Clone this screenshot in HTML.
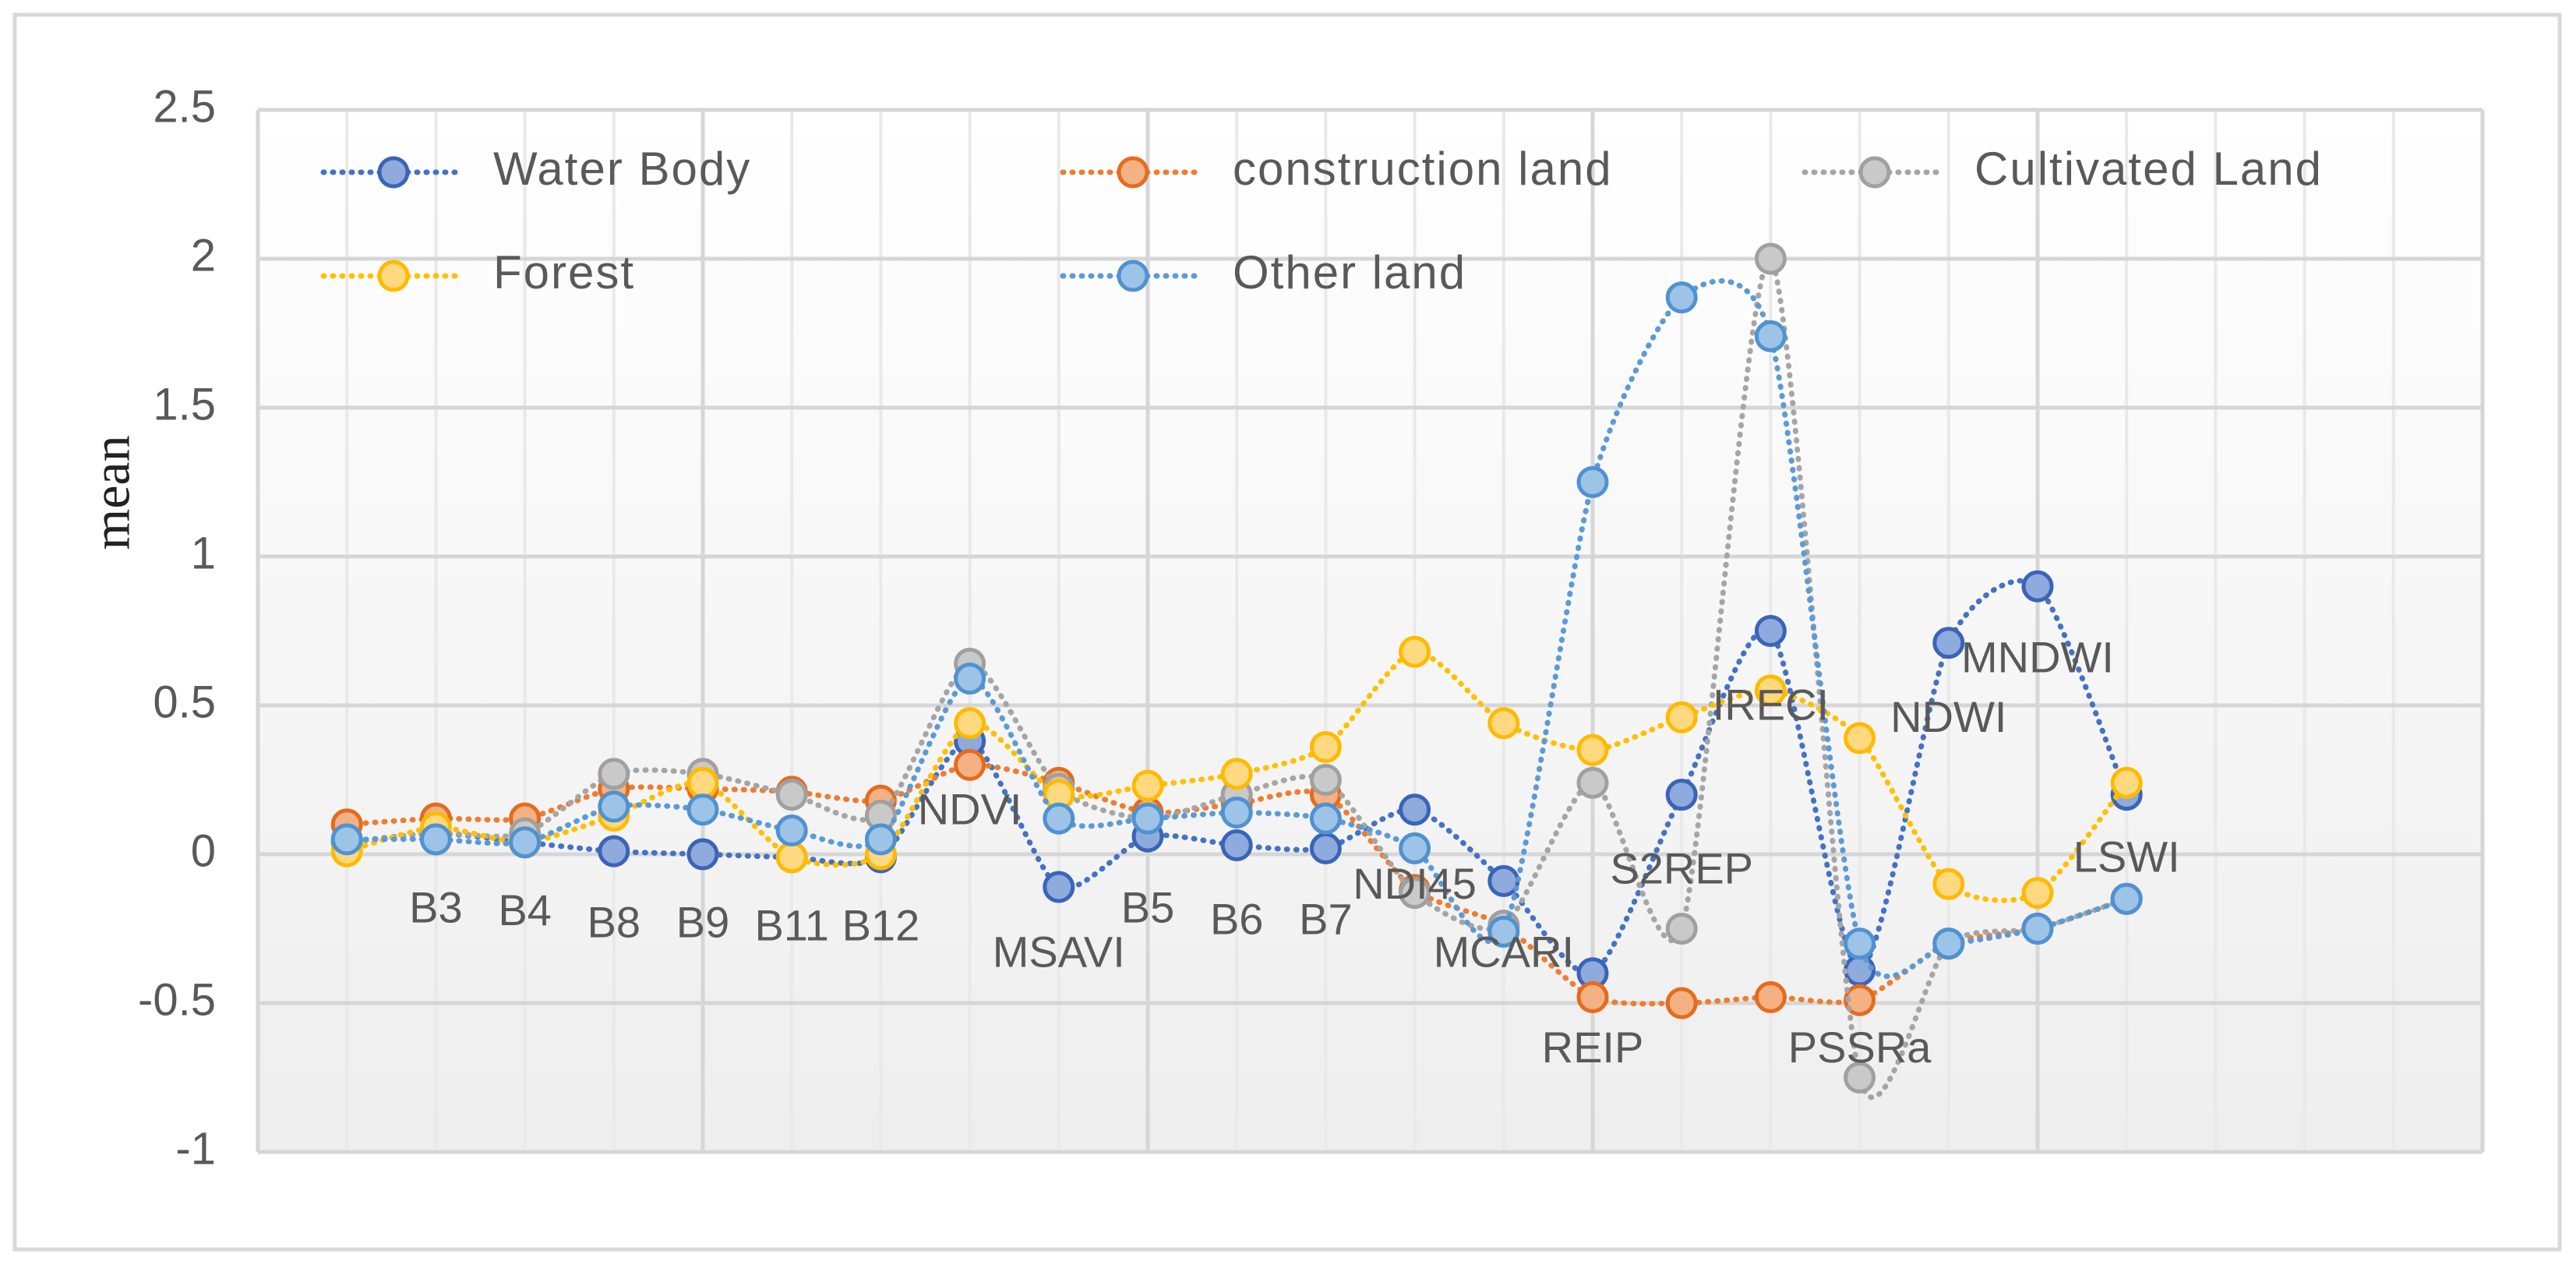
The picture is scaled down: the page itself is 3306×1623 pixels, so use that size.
<!DOCTYPE html>
<html><head><meta charset="utf-8"><style>
html,body{margin:0;padding:0;background:#fff;}
svg{display:block;}
text{font-family:"Liberation Sans",sans-serif;fill:#595959;}
</style></head><body>
<svg id="chart" width="3306" height="1623" viewBox="0 0 3306 1623" xmlns="http://www.w3.org/2000/svg">
<defs>
<linearGradient id="bg" x1="0" y1="0" x2="0" y2="1">
<stop offset="0" stop-color="#ffffff"/><stop offset="1" stop-color="#eeeeee"/>
</linearGradient>
</defs>
<rect x="19" y="19" width="3266" height="1584" fill="#fff" stroke="#d9d9d9" stroke-width="5"/>
<rect x="331" y="141" width="2855" height="1337" fill="url(#bg)"/>
<g id="grid"></g>
<g id="lines"></g>
<g id="labels"></g>
<g id="yticks"></g>
<text x="150" y="632" font-size="68" text-anchor="middle" dominant-baseline="middle" transform="rotate(-90 150 632)" style="font-family:'Liberation Serif',serif;fill:#222">mean</text>
<g id="legend"></g>
</svg>
<script>
const categories = ["B2","B3","B4","B8","B9","B11","B12","NDVI","MSAVI","B5","B6","B7","NDI45","MCARI","REIP","S2REP","IRECI","PSSRa","NDWI","MNDWI","LSWI"];
const showLabel = [false,true,true,true,true,true,true,true,true,true,true,true,true,true,true,true,true,true,true,true,true];
const labelY = [0,-0.19,-0.2,-0.24,-0.24,-0.25,-0.25,0.14,-0.34,-0.19,-0.23,-0.23,-0.11,-0.34,-0.66,-0.06,0.49,-0.66,0.45,0.65,-0.02];
const waterBody = [0.04,0.07,0.04,0.01,0.0,-0.01,-0.01,0.38,-0.11,0.06,0.03,0.02,0.15,-0.09,-0.4,0.2,0.75,-0.39,0.71,0.9,0.2];
const constructionLand = [0.1,0.12,0.12,0.22,0.22,0.21,0.18,0.3,0.24,0.14,0.17,0.2,-0.12,-0.24,-0.48,-0.5,-0.48,-0.49,-0.3,-0.25,-0.15];
const cultivatedLand = [0.04,0.07,0.07,0.27,0.27,0.2,0.13,0.64,0.22,0.12,0.2,0.25,-0.13,-0.24,0.24,-0.25,2.0,-0.75,-0.3,-0.25,-0.15];
const forest = [0.01,0.09,0.04,0.13,0.24,-0.01,0.0,0.44,0.2,0.23,0.27,0.36,0.68,0.44,0.35,0.46,0.55,0.39,-0.1,-0.13,0.24];
const otherLand = [0.05,0.05,0.04,0.16,0.15,0.08,0.05,0.59,0.12,0.12,0.14,0.12,0.02,-0.26,1.25,1.87,1.74,-0.3,-0.3,-0.25,-0.15];
const yTicks = [2.5,2,1.5,1,0.5,0,-0.5,-1];
const yTickLabels = ["2.5","2","1.5","1","0.5","0","-0.5","-1"];

const NS="http://www.w3.org/2000/svg";
const PL=331, PR=3186, PT=141, PB=1478, YMIN=-1, YMAX=2.5, SLOTS=25;
const step=(PR-PL)/SLOTS;
function xs(i){return PL+(i+1)*step;}
function ys(v){return PT+(YMAX-v)/(YMAX-YMIN)*(PB-PT);}
function mk(tag,attrs,parent){const e=document.createElementNS(NS,tag);for(const k in attrs)e.setAttribute(k,attrs[k]);parent.appendChild(e);return e;}

const grid=document.getElementById('grid');
for(let k=0;k<=SLOTS;k++){
  const x=PL+k*step, major=(k%5===0);
  const l=mk('line',{x1:x,x2:x,y1:PT,y2:PB,stroke:major?'#d6d6d6':'#e9e9e9','stroke-width':major?5:4},grid);
  
  
}
const yt=document.getElementById('yticks');
yTicks.forEach((v,i)=>{
  const l=mk('line',{x1:PL,x2:PR,y1:ys(v),y2:ys(v),stroke:'#d6d6d6','stroke-width':5},grid);
  
  
  const t=mk('text',{x:277,y:ys(v),'font-size':58,'text-anchor':'end','dominant-baseline':'middle'},yt);
  t.textContent=yTickLabels[i];
  
  
});

const series=[
 {name:'Water Body',data:waterBody,line:'#4472C4',fill:'#8FAADC',stroke:'#3A64B8',id:'water-body'},
 {name:'construction land',data:constructionLand,line:'#ED7D31',fill:'#F4B183',stroke:'#E46C1F',id:'construction-land'},
 {name:'Cultivated Land',data:cultivatedLand,line:'#A5A5A5',fill:'#C9C9C9',stroke:'#A0A0A0',id:'cultivated-land'},
 {name:'Forest',data:forest,line:'#FFC000',fill:'#FFD97F',stroke:'#FFBA00',id:'forest'},
 {name:'Other land',data:otherLand,line:'#5B9BD5',fill:'#9DC3E6',stroke:'#4F92D2',id:'other-land'}
];
function smooth(pts){
  let d='M'+pts[0][0]+','+pts[0][1];
  const t=0.12;
  for(let i=0;i<pts.length-1;i++){
    const p0=pts[Math.max(0,i-1)],p1=pts[i],p2=pts[i+1],p3=pts[Math.min(pts.length-1,i+2)];
    const c1=[p1[0]+(p2[0]-p0[0])*t,p1[1]+(p2[1]-p0[1])*t];
    const c2=[p2[0]-(p3[0]-p1[0])*t,p2[1]-(p3[1]-p1[1])*t];
    d+=' C'+c1[0]+','+c1[1]+' '+c2[0]+','+c2[1]+' '+p2[0]+','+p2[1];
  }
  return d;
}
const lg=document.getElementById('lines');
series.forEach(s=>{
  const g=mk('g',{},lg);
  
  
  const pts=s.data.map((v,i)=>[xs(i),ys(v)]);
  const p=mk('path',{d:smooth(pts),fill:'none',stroke:s.line,'stroke-width':7,'stroke-dasharray':'1 11','stroke-linecap':'round'},g);
  
  
  pts.forEach((q,i)=>{
    const c=mk('circle',{cx:q[0],cy:q[1],r:18,fill:s.fill,stroke:s.stroke,'stroke-width':5},g);
    
    
  });
});
const lb=document.getElementById('labels');
categories.forEach((c,i)=>{
  if(!showLabel[i])return;
  const t=mk('text',{x:xs(i),y:ys(labelY[i]),'font-size':56,'text-anchor':'middle','dominant-baseline':'middle'},lb);
  t.textContent=c;
  
  
});
const leg=document.getElementById('legend');
const legPos=[[415,221],[1364,221],[2316,221],[415,354],[1364,354]];
series.forEach((s,i)=>{
  const [x,y]=legPos[i];
  const g=mk('g',{},leg);
  
  
  mk('line',{x1:x,x2:x+180,y1:y,y2:y,stroke:s.line,'stroke-width':7,'stroke-dasharray':'1 11','stroke-linecap':'round'},g);
  mk('circle',{cx:x+90,cy:y,r:18,fill:s.fill,stroke:s.stroke,'stroke-width':5},g);
  const t=mk('text',{x:x+218,y:y,'font-size':60,'dominant-baseline':'middle','letter-spacing':2},g);
  t.textContent=s.name;
});
</script>
</body></html>
